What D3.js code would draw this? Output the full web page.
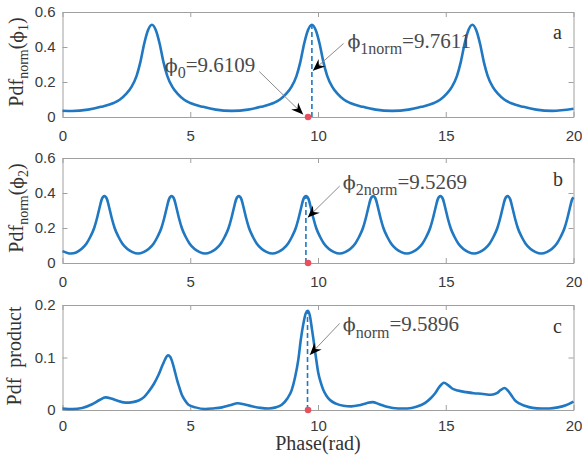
<!DOCTYPE html>
<html><head><meta charset="utf-8">
<script src="https://cdn.jsdelivr.net/npm/d3@7"></script>
<style>body{margin:0;background:#fff}svg{display:block}</style>
</head><body><svg id="chart" width="582" height="456"></svg>
<script>
// ---------- data ----------
const xTicks = [0, 5, 10, 15, 20];
const yTicksAB = [0, 0.2, 0.4, 0.6];
const yTicksC = [0, 0.1, 0.2];
const panelLetters = ["a", "b", "c"];

const phi0 = 9.6109, phi1norm = 9.7611, phi2norm = 9.5269, phiNorm = 9.5896;

// panel a: Pdf_norm(phi_1)
const aX = [0,0.37,1.0,1.5,2.0,2.25,2.5,2.7,2.9,3.05,3.2,3.35,3.5,3.65,3.8,3.95,4.1,4.3,4.5,4.75,5.0,5.5,6.0,6.63,
  7.26,7.76,8.26,8.51,8.76,8.96,9.16,9.31,9.46,9.61,9.76,9.91,10.06,10.21,10.36,10.56,10.76,11.01,11.26,11.76,12.26,12.9,
  13.54,14.04,14.54,14.79,15.04,15.24,15.44,15.59,15.74,15.89,16.04,16.19,16.34,16.49,16.64,16.84,17.04,17.29,17.54,18.04,18.54,19.17,20];
const aY = [0.036,0.034,0.042,0.058,0.080,0.100,0.133,0.172,0.235,0.315,0.420,0.497,0.527,0.497,0.420,0.315,0.235,0.172,0.133,0.100,0.080,0.058,0.042,0.035,
  0.042,0.058,0.080,0.100,0.133,0.172,0.235,0.315,0.420,0.497,0.527,0.497,0.420,0.315,0.235,0.172,0.133,0.100,0.080,0.058,0.042,0.035,
  0.042,0.058,0.080,0.100,0.133,0.172,0.235,0.315,0.420,0.497,0.527,0.497,0.420,0.315,0.235,0.172,0.133,0.100,0.080,0.058,0.042,0.035,0.047];

// panel b: Pdf_norm(phi_2)
const bX = [0,0.33,0.74,0.94,1.09,1.24,1.34,1.44,1.54,1.64,1.74,1.84,1.94,2.04,2.19,2.34,2.54,2.74,2.955,
  3.17,3.37,3.57,3.72,3.87,3.97,4.07,4.17,4.27,4.37,4.47,4.57,4.67,4.82,4.97,5.17,5.37,5.585,
  5.80,6.00,6.20,6.35,6.50,6.60,6.70,6.80,6.90,7.00,7.10,7.20,7.30,7.45,7.60,7.80,8.00,8.215,
  8.43,8.63,8.83,8.98,9.13,9.23,9.33,9.43,9.53,9.63,9.73,9.83,9.93,10.08,10.23,10.43,10.63,10.845,
  11.06,11.26,11.46,11.61,11.76,11.86,11.96,12.06,12.16,12.26,12.36,12.46,12.56,12.71,12.86,13.06,13.26,13.475,
  13.69,13.89,14.09,14.24,14.39,14.49,14.59,14.69,14.79,14.89,14.99,15.09,15.19,15.34,15.49,15.69,15.89,16.105,
  16.32,16.52,16.72,16.87,17.02,17.12,17.22,17.32,17.42,17.52,17.62,17.72,17.82,17.97,18.12,18.32,18.52,18.735,
  18.95,19.15,19.35,19.50,19.65,19.75,19.85,19.95,20];
const bY = [0.068,0.054,0.080,0.112,0.150,0.200,0.250,0.310,0.365,0.382,0.365,0.310,0.250,0.200,0.150,0.112,0.080,0.062,0.054,
  0.062,0.080,0.112,0.150,0.200,0.250,0.310,0.365,0.382,0.365,0.310,0.250,0.200,0.150,0.112,0.080,0.062,0.054,
  0.062,0.080,0.112,0.150,0.200,0.250,0.310,0.365,0.382,0.365,0.310,0.250,0.200,0.150,0.112,0.080,0.062,0.054,
  0.062,0.080,0.112,0.150,0.200,0.250,0.310,0.365,0.382,0.365,0.310,0.250,0.200,0.150,0.112,0.080,0.062,0.054,
  0.062,0.080,0.112,0.150,0.200,0.250,0.310,0.365,0.382,0.365,0.310,0.250,0.200,0.150,0.112,0.080,0.062,0.054,
  0.062,0.080,0.112,0.150,0.200,0.250,0.310,0.365,0.382,0.365,0.310,0.250,0.200,0.150,0.112,0.080,0.062,0.054,
  0.062,0.080,0.112,0.150,0.200,0.250,0.310,0.365,0.382,0.365,0.310,0.250,0.200,0.150,0.112,0.080,0.062,0.054,
  0.062,0.080,0.112,0.150,0.200,0.250,0.310,0.365,0.375];

// panel c: Pdf product
const cX = [0,0.4,0.77,1.16,1.45,1.68,1.9,2.07,2.46,2.75,2.98,3.2,3.37,3.58,3.76,3.92,4.02,4.13,4.22,4.28,4.38,4.48,4.58,4.67,4.8,4.93,5.2,5.59,5.9,
  6.24,6.55,6.86,7.1,7.41,7.75,8.06,8.35,8.58,8.8,8.97,9.1,9.23,9.33,9.43,9.52,9.6,9.68,9.76,9.82,9.92,10.01,10.11,10.21,10.33,10.47,10.7,10.99,
  11.3,11.6,11.9,12.13,12.4,12.7,13.14,13.5,13.85,14.18,14.4,14.57,14.75,14.93,15.1,15.25,15.47,15.8,16.1,16.39,16.78,17.0,17.15,17.3,17.45,
  17.58,17.7,17.9,18.09,18.4,18.74,19.05,19.39,19.7,20];
const cY = [0.003,0.002,0.004,0.011,0.019,0.024,0.022,0.019,0.014,0.015,0.018,0.025,0.035,0.050,0.067,0.086,0.097,0.104,0.101,0.094,0.077,0.058,0.042,0.029,0.018,0.010,0.005,0.002,0.003,
  0.005,0.009,0.013,0.011,0.007,0.004,0.003,0.005,0.010,0.022,0.038,0.062,0.096,0.135,0.165,0.184,0.189,0.180,0.155,0.135,0.100,0.071,0.052,0.038,0.027,0.019,0.012,0.008,
  0.007,0.009,0.013,0.015,0.011,0.006,0.003,0.003,0.006,0.013,0.022,0.031,0.044,0.052,0.047,0.041,0.037,0.034,0.032,0.031,0.029,0.032,0.038,0.042,0.036,
  0.027,0.019,0.012,0.008,0.004,0.003,0.003,0.005,0.009,0.016];

// ---------- layout ----------
const svg = d3.select("#chart");
svg.append("rect").attr("width",582).attr("height",456).attr("fill","#fff");
const L = 62.5, R = 573.5;
const blue = "#1f78c1", axisCol = "#a0a0a0", tickTxt = "#3a3a3a", annCol = "#4a4a4a";
const serif = "'Liberation Serif','Times New Roman',serif";
const sans = "'Liberation Sans',Arial,sans-serif";

const panels = [
  {top:12, bottom:117, ymax:0.6, yticks:yTicksAB, xs:aX, ys:aY, peakX:phi1norm, peakY:0.527, letter:panelLetters[0], pad:13},
  {top:158, bottom:263, ymax:0.6, yticks:yTicksAB, xs:bX, ys:bY, peakX:phi2norm, peakY:0.382, letter:panelLetters[1], pad:13},
  {top:305, bottom:410, ymax:0.2, yticks:yTicksC, xs:cX, ys:cY, peakX:phiNorm, peakY:0.189, letter:panelLetters[2], pad:10}
];

const x = d3.scaleLinear().domain([0,20]).range([L,R]);

function arrow(g, x1,y1,x2,y2){
  g.append("line").attr("x1",x1).attr("y1",y1).attr("x2",x2).attr("y2",y2)
    .attr("stroke","#8a8a8a").attr("stroke-width",1);
  const ang = Math.atan2(y2-y1, x2-x1)*180/Math.PI;
  g.append("path").attr("d","M0,0 L-12,-5 L-8,0 L-12,5 Z")
    .attr("transform",`translate(${x2},${y2}) rotate(${ang})`).attr("fill","#000");
}

panels.forEach((p,i)=>{
  const y = d3.scaleLinear().domain([0,p.ymax]).range([p.bottom,p.top]);
  p.y = y;
  const g = svg.append("g");
  const fmt = d=> d===0? "0" : d.toFixed(1);
  g.append("g").attr("transform",`translate(0,${p.bottom})`)
    .call(d3.axisBottom(x).tickValues(xTicks).tickSizeInner(-5).tickSizeOuter(0).tickPadding(p.pad).tickFormat(d3.format("d")));
  g.append("g").attr("transform",`translate(0,${p.top})`)
    .call(d3.axisTop(x).tickValues(xTicks).tickSizeInner(-5).tickSizeOuter(0).tickFormat(""));
  g.append("g").attr("transform",`translate(${L},0)`)
    .call(d3.axisLeft(y).tickValues(p.yticks).tickSizeInner(-5).tickSizeOuter(0).tickPadding(7).tickFormat(fmt));
  g.append("g").attr("transform",`translate(${R},0)`)
    .call(d3.axisRight(y).tickValues(p.yticks).tickSizeInner(-5).tickSizeOuter(0).tickFormat(""));
  g.selectAll(".domain").attr("stroke",axisCol);
  g.selectAll(".tick line").attr("stroke",axisCol);
  g.selectAll(".tick text").attr("fill",tickTxt).style("font-family",sans).style("font-size","15px");

  const pts = p.xs.map((v,k)=>[v,p.ys[k]]);
  g.append("path").datum(pts)
    .attr("d", d3.line().x(d=>x(d[0])).y(d=>y(d[1])).curve(d3.curveMonotoneX))
    .attr("fill","none").attr("stroke",blue).attr("stroke-width",2.6).attr("stroke-linejoin","round");

  g.append("line").attr("x1",x(p.peakX)).attr("x2",x(p.peakX)).attr("y1",y(0)).attr("y2",y(p.peakY))
    .attr("stroke",blue).attr("stroke-width",1.6).attr("stroke-dasharray","5,3");
  g.append("circle").attr("cx",x(phi0)).attr("cy",y(0)).attr("r",3.3).attr("fill","#e8505e");

  g.append("text").attr("x",x(19.2)).attr("y",(p.top+ (p.bottom-p.top)*0.25)+ (i===0?1:2))
    .attr("fill","#333").style("font-family",serif).style("font-size","20px").text(p.letter);
});

// ---------- annotations ----------
function annot(text0, sub, value, px, py, subSize){
  const t = svg.append("text").attr("x",px).attr("y",py).attr("fill",annCol)
    .style("font-family",serif).style("font-size","21px");
  t.append("tspan").style("font-family","'DejaVu Serif',serif").style("font-size","19px").text(text0);
  t.append("tspan").attr("dy",6.5).style("font-size",subSize+"px").text(sub);
  t.append("tspan").attr("dy",-6.5).text(value);
}
const pa = panels[0], pb = panels[1], pc = panels[2];
annot("ϕ","0","=9.6109", x(4.0), pa.y(0.26), 16);
arrow(svg, x(7.7), pa.y(0.26), x(9.42), pa.y(0.015));
annot("ϕ","1norm","=9.7611", x(11.15), pa.y(0.395), 16);
arrow(svg, x(11.0), pa.y(0.42), x(9.8), pa.y(0.265));
annot("ϕ","2norm","=9.5269", x(10.97), pb.y(0.423), 16);
arrow(svg, x(10.85), pb.y(0.44), x(9.6), pb.y(0.26));
annot("ϕ","norm","=9.5896", x(10.97), pc.y(0.150), 16);
arrow(svg, x(10.85), pc.y(0.165), x(9.68), pc.y(0.105));

// ---------- axis titles ----------
function ylab(cx, cy, parts){
  const t = svg.append("text").attr("transform",`translate(${cx},${cy}) rotate(-90)`)
    .attr("text-anchor","middle").attr("fill","#333").style("font-family",serif).style("font-size","20px");
  parts(t);
}
ylab(23, 62, t=>{
  t.append("tspan").text("Pdf");
  t.append("tspan").attr("dy",5).style("font-size","14px").text("norm");
  t.append("tspan").attr("dy",-5).text("(");
  t.append("tspan").style("font-family","'DejaVu Serif',serif").style("font-size","17px").text("ϕ");
  t.append("tspan").attr("dy",5).style("font-size","14px").text("1");
  t.append("tspan").attr("dy",-5).text(")");
});
ylab(23, 208, t=>{
  t.append("tspan").text("Pdf");
  t.append("tspan").attr("dy",5).style("font-size","14px").text("norm");
  t.append("tspan").attr("dy",-5).text("(");
  t.append("tspan").style("font-family","'DejaVu Serif',serif").style("font-size","17px").text("ϕ");
  t.append("tspan").attr("dy",5).style("font-size","14px").text("2");
  t.append("tspan").attr("dy",-5).text(")");
});
ylab(21, 356, t=>{ t.text("Pdf\u00a0\u00a0product"); });

svg.append("text").attr("x",(L+R)/2).attr("y",450).attr("text-anchor","middle").attr("fill","#333")
  .style("font-family",serif).style("font-size","20px").text("Phase(rad)");
</script></body></html>
